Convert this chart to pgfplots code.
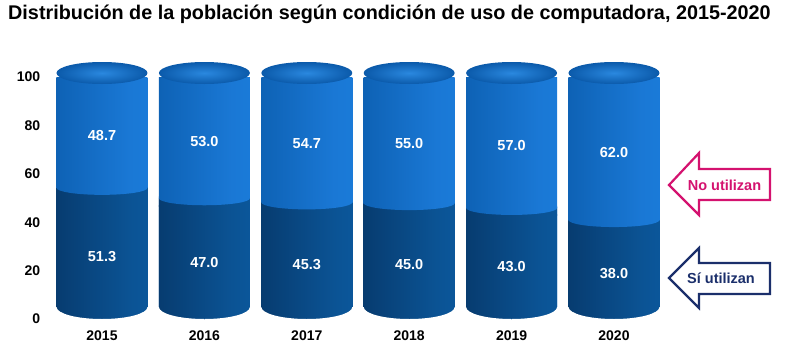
\documentclass[border=0pt]{standalone}
\usepackage{pgfplots}
\pgfplotsset{compat=1.18}
\usepackage{pgfplotstable}
\usepackage{fontspec}
\setmainfont{Liberation Sans}
\definecolor{dk0}{HTML}{04264A}
\definecolor{dk1}{HTML}{073C70}
\definecolor{dk2}{HTML}{0B5394}
\definecolor{dk3}{HTML}{0C5AA0}
\definecolor{dk4}{HTML}{084680}
\definecolor{lt0}{HTML}{0A4F95}
\definecolor{lt1}{HTML}{0E62B5}
\definecolor{lt2}{HTML}{1A78D5}
\definecolor{lt3}{HTML}{1B7DDB}
\definecolor{lt4}{HTML}{1369BD}
\definecolor{capin}{HTML}{2A88DF}
\definecolor{capout}{HTML}{0B5AAA}
\definecolor{magen}{HTML}{D4126F}
\definecolor{navy}{HTML}{1B2F6B}
\pgfdeclarehorizontalshading{darkcyl}{100bp}{color(0bp)=(dk0); color(25bp)=(dk1); color(65bp)=(dk2); color(85bp)=(dk3); color(100bp)=(dk4)}
\pgfdeclarehorizontalshading{lightcyl}{100bp}{color(0bp)=(lt0); color(25bp)=(lt1); color(65bp)=(lt2); color(85bp)=(lt3); color(100bp)=(lt4)}
\pgfdeclareplotmark{cylcap}{\shade[draw=none, inner color=capin, outer color=capout] (0pt,4pt) ellipse [x radius=45.5pt, y radius=11pt];}
\pgfdeclareplotmark{cylmid}{\shade[draw=none, shading=darkcyl] (-45.5pt,-1pt) rectangle (45.5pt,7pt);
  \shade[draw=none, shading=lightcyl] (-45.5pt,9pt) -- (-45.5pt,7pt) arc[start angle=180, end angle=360, x radius=45.5pt, y radius=7pt] -- (45.5pt,9pt) -- cycle;}
\pgfdeclareplotmark{cylbot}{\fill[white, draw=none] (-46.5pt,-1pt) -- (-46.5pt,12pt) -- (-45.5pt,12pt) arc[start angle=180, end angle=270, x radius=45.5pt, y radius=12pt] -- (0pt,-1pt) -- cycle;
  \fill[white, draw=none] (46.5pt,-1pt) -- (46.5pt,12pt) -- (45.5pt,12pt) arc[start angle=360, end angle=270, x radius=45.5pt, y radius=12pt] -- (0pt,-1pt) -- cycle;}
\pgfplotstableread{
x year si no
0 2015 51.3 48.7
1 2016 47.0 53.0
2 2017 45.3 54.7
3 2018 45.0 55.0
4 2019 43.0 57.0
5 2020 38.0 62.0
}\datatable
\begin{document}
\begin{tikzpicture}
\path[use as bounding box] (-50.8pt,-38pt) rectangle (757.2pt,319pt);
\begin{axis}[
  at={(0pt,0pt)}, anchor=south west,
  scale only axis, width=614.4pt, height=242pt,
  xmin=-0.5, xmax=5.5, ymin=0, ymax=100,
  clip=false,
  axis line style={draw=none}, tick style={draw=none},
  xtick={0,1,2,3,4,5}, xticklabels={2015,2016,2017,2018,2019,2020},
  ytick={0,20,40,60,80,100},
  /pgf/number format/assume math mode=true,
  ticklabel style={font=\fontsize{14}{16}\selectfont\bfseries},
  xticklabel style={yshift=-8pt},
  yticklabel style={xshift=-7pt},
]
\pgfplotsinvokeforeach{0,...,5}{
\addplot[ybar, bar width=91pt, bar shift=0pt, draw=none, shading=lightcyl, restrict expr to domain={\coordindex}{#1:#1}] table[x=x, y expr=\thisrow{si}+\thisrow{no}] {\datatable};
\addplot[ybar, bar width=91pt, bar shift=0pt, draw=none, shading=darkcyl, restrict expr to domain={\coordindex}{#1:#1}] table[x=x, y=si] {\datatable};
}
\addplot[only marks, draw=none, mark options={draw=none}, mark=cylbot] table[x=x, y expr=0] {\datatable};
\addplot[only marks, draw=none, mark options={draw=none}, mark=cylmid] table[x=x, y=si] {\datatable};
\addplot[only marks, draw=none, mark options={draw=none}, mark=cylcap] table[x=x, y expr=\thisrow{si}+\thisrow{no}] {\datatable};
\addplot[draw=none, mark=none, nodes near coords, point meta=explicit symbolic,
  nodes near coords align=center,
  every node near coord/.style={font=\fontsize{14.5}{16}\selectfont\bfseries, text=white}]
  table[x=x, y expr=\thisrow{si}/2, meta=si] {\datatable};
\addplot[draw=none, mark=none, nodes near coords, point meta=explicit symbolic,
  nodes near coords align=center,
  every node near coord/.style={font=\fontsize{14.5}{16}\selectfont\bfseries, text=white}]
  table[x=x, y expr=\thisrow{si}+\thisrow{no}/2, meta=no] {\datatable};
\end{axis}
\node[anchor=west, font=\fontsize{19.8}{22}\selectfont\bfseries, inner sep=0pt] at (-42.8pt,305pt) {Distribución de la población según condición de uso de computadora, 2015-2020};
\draw[magen, line width=2.2pt, fill=white, line join=miter] (618.2pt,134pt) -- (648.2pt,166pt) -- (648.2pt,150pt) -- (719.2pt,150pt) -- (719.2pt,119pt) -- (648.2pt,119pt) -- (648.2pt,104pt) -- cycle;
\node[text=magen, font=\fontsize{14.5}{16}\selectfont\bfseries] at (673.7pt,134pt) {No utilizan};
\draw[navy, line width=2.2pt, fill=white, line join=miter] (618.2pt,41pt) -- (648.2pt,71pt) -- (648.2pt,56pt) -- (719.2pt,56pt) -- (719.2pt,25pt) -- (648.2pt,25pt) -- (648.2pt,11pt) -- cycle;
\node[text=navy, font=\fontsize{14.5}{16}\selectfont\bfseries] at (670.2pt,41pt) {Sí utilizan};
\end{tikzpicture}
\end{document}
